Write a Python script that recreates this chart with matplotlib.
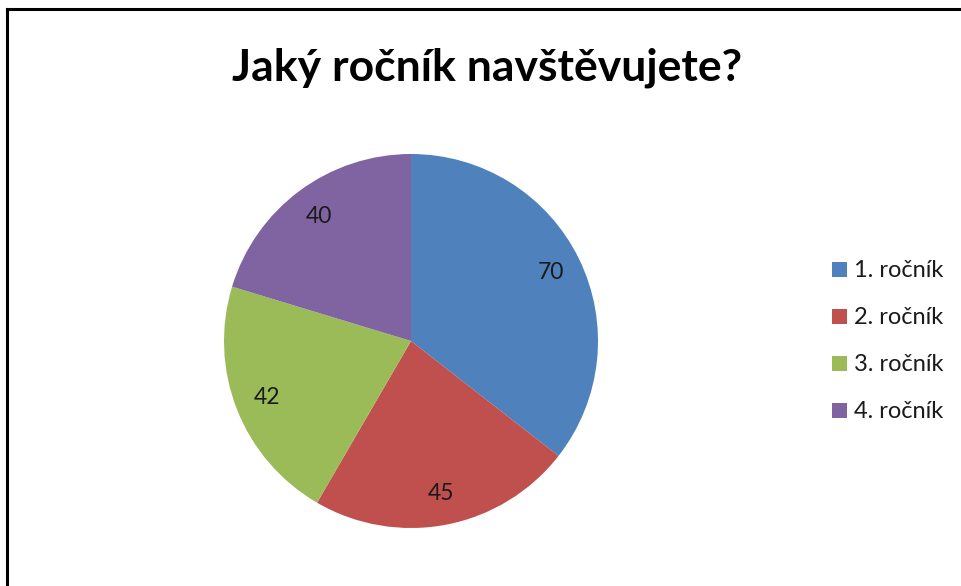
import matplotlib
matplotlib.use('Agg')
from matplotlib import pyplot as plt
from matplotlib.lines import Line2D

title = 'Jaký ročník navštěvujete?'
labels = ['1. ročník', '2. ročník', '3. ročník', '4. ročník']
counts = [70, 45, 42, 40]
colors = ['#4F81BD', '#C0504D', '#9BBB59', '#8064A2']

plt.rcParams['font.family'] = ['Lato', 'DejaVu Sans']

fig = plt.figure(figsize=(9.61, 5.86), dpi=100)
fig.patch.set_facecolor('white')

# frame on the top and left side only
fig.add_artist(Line2D([7/961, 1], [1 - 9/586, 1 - 9/586], transform=fig.transFigure,
                      color='black', lw=2.2))
fig.add_artist(Line2D([7/961, 7/961], [0, 1 - 9/586], transform=fig.transFigure,
                      color='black', lw=2.2))

fig.text(487/961, 1 - 68/586, title, ha='center', va='center',
         fontsize=32, fontweight='bold', color='black')

ax = fig.add_axes([224/961, 58/586, 374/961, 374/586])
wedges, texts = ax.pie(counts, colors=colors, startangle=90, counterclock=False,
                       labels=[str(c) for c in counts], labeldistance=0.83,
                       textprops={'fontsize': 16.5, 'color': '#1a1a1a'},
                       wedgeprops={'linewidth': 0})
for t in texts:
    t.set_ha('center')
    t.set_va('center')
ax.set_xlim(-1, 1)
ax.set_ylim(-1, 1)
ax.set_aspect('equal')

fig.legend(wedges, labels, loc='upper left', bbox_to_anchor=(823/961, 1 - 251/586),
           frameon=False, fontsize=17, handlelength=0.6, handleheight=0.6,
           handletextpad=0.3, labelspacing=1.1, borderaxespad=0,
           labelcolor='#1a1a1a')

fig.savefig('out.png', dpi=100, facecolor='white')
